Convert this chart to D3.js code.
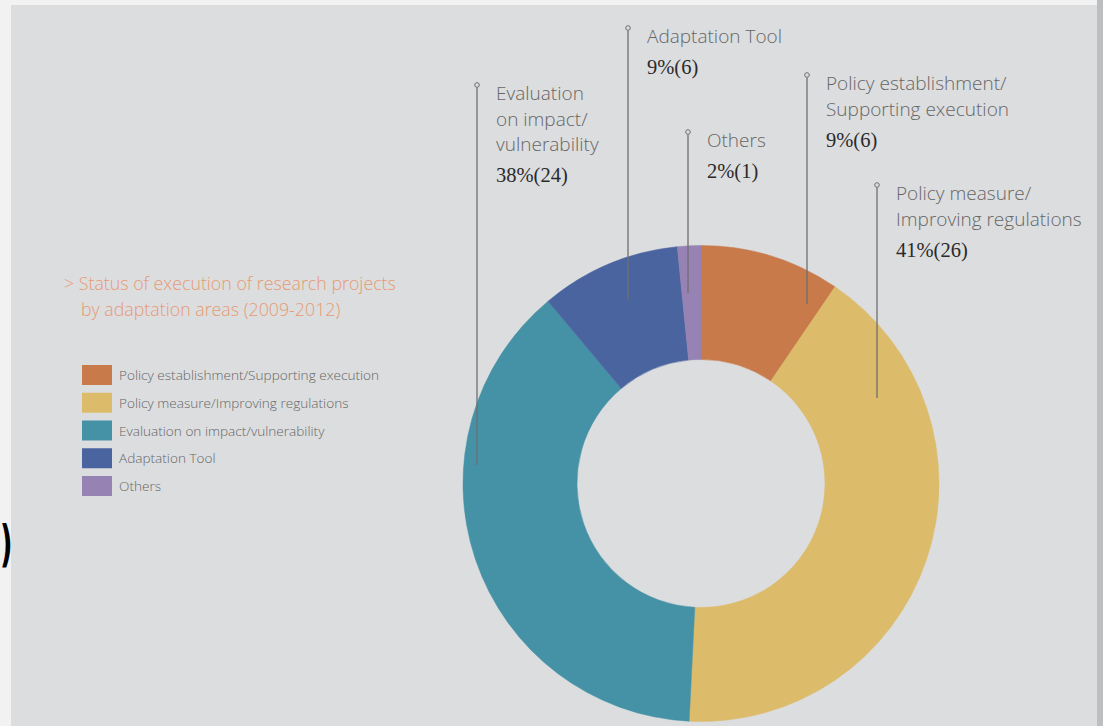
<!DOCTYPE html>
<html>
<head>
<meta charset="utf-8">
<script src="https://cdn.jsdelivr.net/npm/d3@7/dist/d3.min.js"></script>
<style>
  html, body { margin: 0; padding: 0; background: #f2f2f2; }
  svg { display: block; }
</style>
</head>
<body>
<svg id="chart" width="1103" height="726"></svg>
<script>
// ---- data ----
const categories = [
  "Policy establishment/Supporting execution",
  "Policy measure/Improving regulations",
  "Evaluation on impact/vulnerability",
  "Adaptation Tool",
  "Others"
];
const counts = [6, 26, 24, 6, 1];
const percentLabels = ["9%(6)", "41%(26)", "38%(24)", "9%(6)", "2%(1)"];
const calloutLines = [
  ["Policy establishment/", "Supporting execution"],
  ["Policy measure/", "Improving regulations"],
  ["Evaluation", "on impact/", "vulnerability"],
  ["Adaptation Tool"],
  ["Others"]
];
const colors = ["#c97a4b", "#dcbb6a", "#4591a6", "#4a64a0", "#9683b3"];
const titleLines = ["> Status of execution of research projects", "by adaptation areas (2009-2012)"];

// ---- layout ----
const svg = d3.select("#chart");
const W = 1103, H = 726;

// panel
svg.append("rect").attr("x", 11).attr("y", 5).attr("width", 1086).attr("height", H - 5).attr("fill", "#dcdddf");
svg.append("rect").attr("x", 1097).attr("y", 0).attr("width", 6).attr("height", H).attr("fill", "#bdbebf");

// stray glyph at left edge (narrowed so it stays inside the picture)
svg.append("text").attr("transform", "translate(0,561) scale(0.55,1)")
  .attr("font-family", "DejaVu Sans, sans-serif").attr("font-size", 50).attr("font-weight", "bold")
  .attr("fill", "#000").text(")");

const cx = 701, cy = 483.5, rOuter = 238, rInner = 124;
const g = svg.append("g").attr("transform", `translate(${cx},${cy})`);

const pie = d3.pie().sort(null).value(d => d)(counts);
const arc = d3.arc().innerRadius(rInner).outerRadius(rOuter);

g.selectAll("path.slice").data(pie).join("path")
  .attr("class", "slice")
  .attr("d", arc)
  .attr("fill", (d, i) => colors[i])
  .attr("stroke", (d, i) => colors[i]).attr("stroke-width", 0.5);

// ---- callouts: vertical leader lines with small circle on top ----
const callouts = [
  { i: 0, x: 807, top: 75,  bottom: 304 },
  { i: 1, x: 877, top: 185, bottom: 398 },
  { i: 2, x: 477, top: 85,  bottom: 465 },
  { i: 3, x: 628, top: 28,  bottom: 300 },
  { i: 4, x: 688, top: 132, bottom: 293 }
];

const cg = svg.append("g");
callouts.forEach(c => {
  cg.append("line").attr("x1", c.x).attr("x2", c.x).attr("y1", c.top + 2.5).attr("y2", c.bottom)
    .attr("stroke", "#6f6f6f").attr("stroke-width", 1.3);
  cg.append("circle").attr("cx", c.x).attr("cy", c.top).attr("r", 2.3)
    .attr("fill", "none").attr("stroke", "#6f6f6f").attr("stroke-width", 1);
  const lines = calloutLines[c.i];
  const tx = c.x + 19;
  lines.forEach((ln, k) => {
    cg.append("text").attr("x", tx).attr("y", c.top + 15 + k * 25.5)
      .attr("font-family", "Open Sans, Lato, sans-serif").attr("font-weight", 300)
      .attr("font-size", 19).attr("fill", "#666").text(ln);
  });
  cg.append("text").attr("x", tx).attr("y", c.top + 15 + (lines.length - 1) * 25.5 + 31)
    .attr("font-family", "Liberation Serif, serif")
    .attr("font-size", 20.5).attr("fill", "#2a2a2a").text(percentLabels[c.i]);
});

// ---- title ----
svg.append("text").attr("x", 64).attr("y", 290)
  .attr("font-family", "Open Sans, Lato, sans-serif").attr("font-weight", 300)
  .attr("font-size", 17.8).attr("fill", "#e79a72").text(titleLines[0]);
svg.append("text").attr("x", 81).attr("y", 316)
  .attr("font-family", "Open Sans, Lato, sans-serif").attr("font-weight", 300)
  .attr("font-size", 17.8).attr("fill", "#e79a72").text(titleLines[1]);

// ---- legend ----
const yLegend = d3.scalePoint().domain(d3.range(categories.length)).range([365, 476]);
const lg = svg.append("g");
categories.forEach((c, i) => {
  lg.append("rect").attr("x", 82).attr("y", yLegend(i)).attr("width", 30).attr("height", 20)
    .attr("fill", colors[i]);
  lg.append("text").attr("x", 119).attr("y", yLegend(i) + 15)
    .attr("font-family", "Open Sans, Lato, sans-serif").attr("font-weight", 300)
    .attr("font-size", 13.6).attr("fill", "#666").text(c);
});
</script>
</body>
</html>
